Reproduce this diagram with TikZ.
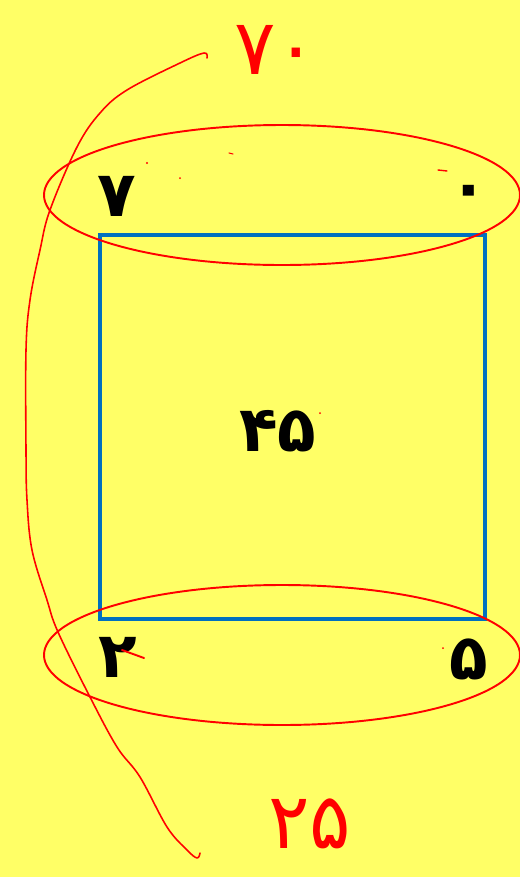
\documentclass[tikz,border=0pt]{standalone}
\usepackage{fontspec}
\newfontfamily\fafont[Script=Arabic]{DejaVu Sans}
\definecolor{notebg}{HTML}{FFFF66}
\definecolor{boxblue}{HTML}{0070C0}
\definecolor{penred}{HTML}{FF0000}
\tikzset{
  digit/.style={font=\fafont\bfseries\fontsize{36}{36}\selectfont, text=black, inner sep=0pt},
  handnum/.style={font=\fafont\fontsize{44}{44}\selectfont, text=penred, inner sep=0pt},
  pen/.style={penred, line width=1.1pt, line cap=round, line join=round}
}
\begin{document}
\begin{tikzpicture}[x=0.02cm, y=-0.02cm]
    % Background
    \fill[notebg] (0,0) rectangle (520,877);
    \useasboundingbox (0,0) rectangle (520,877);

    % Square
    \draw[boxblue, line width=2.8pt] (100,235) rectangle (485,619);

    % Corner and middle digits
    \node[digit] (seven) at (117,196) {۷};
    \node[digit] (zero) at (469,197) {۰};
    \node[digit] (two) at (118,657) {۲};
    \node[digit] (five) at (469,659) {۵};
    \node[digit] (mid) at (278,431) {۴۵};

    % Groups
    \draw[pen] (282,195) ellipse [x radius=238, y radius=70];
    \draw[pen] (282,655) ellipse [x radius=238, y radius=70];

    % Bracket curve
    \draw[pen, line width=0.9pt] plot[smooth, tension=0.6] coordinates {
        (207,58) (204,53) (180,63) (127,90) (100,113) (77,147) (50,210)
        (40,250) (30,300) (26,350) (26,450) (27,500) (32,550) (47,600)
        (58,632) (90,697) (117,747) (140,777) (167,827) (187,850) (197,858) (200,853)};

    % Sums
    \node[handnum] (topsum) at (276,50) {۷۰};
    \node[handnum] (botsum) at (310,824) {۲۵};

    % Stray marks
    \draw[pen] (122,650) -- (144,658);
    \fill[penred] (147,163) circle [radius=1.2];
    \fill[penred] (180,178) circle [radius=1];
    \draw[pen, line width=0.6pt] (229,153) -- (233,154);
    \draw[pen, line width=0.8pt] (438,170) -- (447,171);
    \fill[penred] (443,648) circle [radius=1];
    \fill[penred] (320,413) circle [radius=1];
\end{tikzpicture}
\end{document}
